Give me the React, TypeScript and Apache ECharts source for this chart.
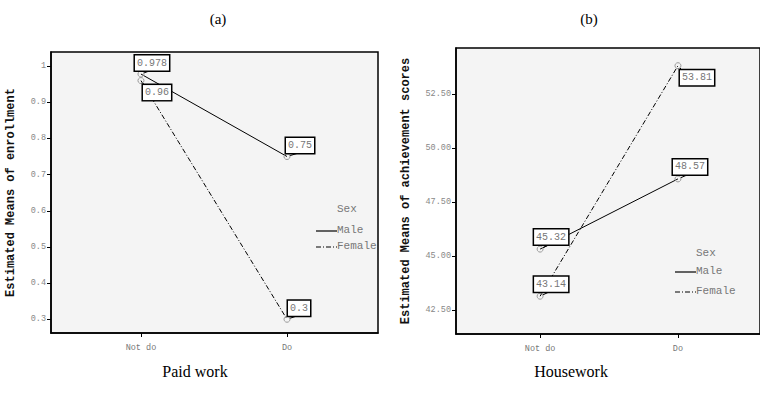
import React, { useEffect, useRef } from "react";
import * as echarts from "echarts";

const categories = ["Not do", "Do"];
const seriesNames = ["Male", "Female"];

// (a) Paid work — Estimated means of enrollment
const enrollMale = [0.978, 0.75];
const enrollFemale = [0.96, 0.3];
const enrollTicks = [0.3, 0.4, 0.5, 0.6, 0.7, 0.8, 0.9, 1];

// (b) Housework — Estimated means of achievement scores
const scoreMale = [45.32, 48.57];
const scoreFemale = [43.14, 53.81];
const scoreTicks = [42.5, 45, 47.5, 50, 52.5];

// label offsets (style only)
const offMaleA = [[11, -11], [13, -11]];
const offFemaleA = [[16, 12], [12, -11]];
const offMaleB = [[11, -12], [12, -12]];
const offFemaleB = [[11, -12], [19, 12]];

const MONO = "'Liberation Mono', 'DejaVu Sans Mono', monospace";
const SERIF = "'Liberation Serif', 'DejaVu Serif', serif";

function labelStyle(off: number[]) {
  return {
    show: true,
    position: "inside",
    offset: off,
    formatter: (p: any) => String(p.value[1]),
    backgroundColor: "#fff",
    borderColor: "#000",
    borderWidth: 1.5,
    padding: [3, 2, 2, 2],
    fontFamily: MONO,
    fontSize: 10,
    color: "#777",
  };
}

function mkData(vals: number[], offs: number[][]) {
  return vals.map((v, i) => ({ value: [i, v], label: labelStyle(offs[i]) }));
}

export default function App() {
  const ref = useRef<HTMLDivElement>(null);
  useEffect(() => {
    const chart = echarts.init(ref.current!, undefined, { renderer: "svg" });
    const xAxisBase = (min: number, max: number, gi: number) => ({
      type: "value",
      gridIndex: gi,
      min,
      max,
      splitLine: { show: false },
      axisLine: { show: true, onZero: false, lineStyle: { color: "#000", width: 1.5 } },
      axisTick: { show: true, customValues: [0, 1], length: 4, lineStyle: { color: "#000" } },
      axisLabel: {
        customValues: [0, 1],
        formatter: (v: number) => categories[Math.round(v)] ?? "",
        fontFamily: MONO,
        fontSize: 8.5,
        color: "#777",
        margin: 10,
      },
    });
    const yAxisBase = (
      min: number,
      max: number,
      gi: number,
      ticks: number[],
      name: string,
      gap: number,
      fmt: (v: number) => string,
      fs: number
    ) => ({
      type: "value",
      gridIndex: gi,
      min,
      max,
      name,
      nameLocation: "middle",
      nameGap: gap,
      nameTextStyle: { fontFamily: MONO, fontWeight: "bold", fontSize: 12, color: "#111" },
      splitLine: { show: false },
      axisLine: { show: true, onZero: false, lineStyle: { color: "#000", width: 1.5 } },
      axisTick: { show: true, customValues: ticks, length: 4, lineStyle: { color: "#000" } },
      axisLabel: {
        customValues: ticks,
        formatter: fmt,
        fontFamily: MONO,
        fontSize: fs,
        color: "#888",
        margin: 5,
      },
    });
    const lineSeries = (
      name: string,
      vals: number[],
      offs: number[][],
      gi: number,
      dashed: boolean
    ) => ({
      type: "line",
      name,
      xAxisIndex: gi,
      yAxisIndex: gi,
      data: mkData(vals, offs),
      symbol: "circle",
      symbolSize: 6,
      itemStyle: { color: "rgba(0,0,0,0)", borderColor: "#999", borderWidth: 1 },
      lineStyle: { color: "#000", width: 1, type: dashed ? [5, 2, 1, 2] : "solid" },
      labelLine: { show: true, lineStyle: { color: "#000", width: 1 } },
      z: 3,
    });

    const legendGroup = (x0: number, ySex: number, yMale: number, yFemale: number) => [
      { type: "text", left: x0 + 21, top: ySex - 7, style: { text: "Sex", font: `11px ${MONO}`, fill: "#777" } },
      { type: "line", shape: { x1: x0, y1: yMale, x2: x0 + 21, y2: yMale }, style: { stroke: "#000", lineWidth: 1.2 } },
      { type: "text", left: x0 + 21, top: yMale - 7, style: { text: seriesNames[0], font: `11px ${MONO}`, fill: "#777" } },
      { type: "line", shape: { x1: x0, y1: yFemale, x2: x0 + 21, y2: yFemale }, style: { stroke: "#000", lineWidth: 1, lineDash: [5, 2, 1, 2] } },
      { type: "text", left: x0 + 21, top: yFemale - 7, style: { text: seriesNames[1], font: `11px ${MONO}`, fill: "#777" } },
    ];

    chart.setOption({
      animation: false,
      backgroundColor: "#fff",
      title: [
        { text: "(a)", left: 213, top: 6, textAlign: "center", textStyle: { fontFamily: SERIF, fontSize: 15, fontWeight: "normal", color: "#000" } },
        { text: "(b)", left: 584, top: 6, textAlign: "center", textStyle: { fontFamily: SERIF, fontSize: 15, fontWeight: "normal", color: "#000" } },
        { text: "Paid work", left: 190, top: 358, textAlign: "center", textStyle: { fontFamily: SERIF, fontSize: 16, fontWeight: "normal", color: "#000" } },
        { text: "Housework", left: 566, top: 358, textAlign: "center", textStyle: { fontFamily: SERIF, fontSize: 16, fontWeight: "normal", color: "#000" } },
      ],
      grid: [
        { left: 51, top: 52, width: 327, height: 281, show: true, backgroundColor: "#f4f4f4", borderColor: "#000", borderWidth: 1.5 },
        { left: 456, top: 48, width: 310, height: 286, show: true, backgroundColor: "#f4f4f4", borderColor: "#000", borderWidth: 1.5 },
      ],
      xAxis: [xAxisBase(-0.616, 1.623, 0), xAxisBase(-0.61, 1.595, 1)],
      yAxis: [
        yAxisBase(0.262, 1.039, 0, enrollTicks, "Estimated Means of enrollment", 34, (v) => String(Math.round(v * 10) / 10), 8.5),
        yAxisBase(41.39, 54.63, 1, scoreTicks, "Estimated Means of achievement scores", 44, (v) => v.toFixed(2), 8.5),
      ],
      series: [
        lineSeries("Male", enrollMale, offMaleA, 0, false),
        lineSeries("Female", enrollFemale, offFemaleA, 0, true),
        lineSeries("Male", scoreMale, offMaleB, 1, false),
        lineSeries("Female", scoreFemale, offFemaleB, 1, true),
      ],
      graphic: [...legendGroup(316, 210, 231, 247), ...legendGroup(675, 254, 272, 292)],
    });
    return () => chart.dispose();
  }, []);
  return <div ref={ref} style={{ position: "fixed", left: 0, top: 0, width: 760, height: 407 }} />;
}
